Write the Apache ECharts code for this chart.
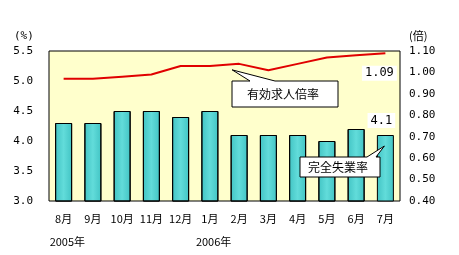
<!DOCTYPE html>
<html><head><meta charset="utf-8">
<script src="https://cdn.jsdelivr.net/npm/echarts@6/dist/echarts.min.js"></script>
<style>html,body{margin:0;padding:0;background:#fff}#c{width:459px;height:255px}</style>
</head><body><div id="c"></div>
<script>
const months = ['8月','9月','10月','11月','12月','1月','2月','3月','4月','5月','6月','7月'];
const unemployment = [4.3,4.3,4.5,4.5,4.4,4.5,4.1,4.1,4.1,4.0,4.2,4.1];
const jobRatio = [0.97,0.97,0.98,0.99,1.03,1.03,1.04,1.01,1.04,1.07,1.08,1.09];
const leftTicks = ['3.0','3.5','4.0','4.5','5.0','5.5'];
const rightTicks = ['0.40','0.50','0.60','0.70','0.80','0.90','1.00','1.10'];
const yearLabels = [{idx:0,text:'2005年'},{idx:5,text:'2006年'}];

const mono = '"DejaVu Sans Mono", monospace';
const jp = '"Noto Sans CJK JP", sans-serif';
const chart = echarts.init(document.getElementById('c'));
const last = months.length - 1;
const valLabel = {color:'#000',fontFamily:mono,fontSize:12,backgroundColor:'#fff',padding:[2,3,1,3]};
chart.setOption({
  animation:false,
  grid:{left:49,right:59,top:51,bottom:54,show:true,borderColor:'#000',borderWidth:1,backgroundColor:'#ffffcc'},
  xAxis:{type:'category',data:months,axisTick:{show:false},axisLine:{show:false},
    axisLabel:{interval:0,color:'#000',fontFamily:jp,fontSize:11,margin:12}},
  yAxis:[
    {type:'value',min:3.0,max:5.5,interval:0.5,splitLine:{show:false},axisLine:{show:false},axisTick:{show:false},
     axisLabel:{color:'#000',fontFamily:mono,fontSize:11,margin:16,formatter:v=>leftTicks[Math.round((v-3)/0.5)]}},
    {type:'value',min:0.4,max:1.1,interval:0.1,splitLine:{show:false},axisLine:{show:false},axisTick:{show:false},
     axisLabel:{color:'#000',fontFamily:mono,fontSize:11,margin:9,formatter:v=>rightTicks[Math.round((v-0.4)/0.1)]}}
  ],
  series:[
    {type:'bar',yAxisIndex:0,barWidth:17,z:2,
     label:Object.assign({show:false,position:'top',offset:[-4,-2],formatter:'{c}'},valLabel),
     data:unemployment.map((v,i)=>i===last?{value:v,label:{show:true}}:v),
     itemStyle:{color:new echarts.graphic.LinearGradient(0,0,1,0,[{offset:0,color:'#42c4c4'},{offset:0.5,color:'#62dcda'},{offset:1,color:'#42c4c4'}]),borderColor:'#000',borderWidth:1}},
    {type:'line',yAxisIndex:1,symbol:'none',showSymbol:false,z:3,lineStyle:{color:'#e00000',width:2},
     data:jobRatio}
  ]
});

function place(){
  const g=[];
  g.push({type:'text',left:14,top:31,z:100,style:{text:'(%)',font:'11px '+mono,fill:'#000'}});
  g.push({type:'text',left:409,top:30,z:100,style:{text:'(倍)',font:'11px '+jp,fill:'#000'}});
  yearLabels.forEach(y=>{
    const p=chart.convertToPixel({xAxisIndex:0},y.idx);
    g.push({type:'text',x:p-14,y:236,z:100,style:{text:y.text,font:'11px '+jp,fill:'#000'}});
  });
  // value label for last ratio point
  const pL=chart.convertToPixel({xAxisIndex:0,yAxisIndex:1},[last,jobRatio[last]]);
  g.push({type:'text',x:pL[0]-6,y:pL[1]+20,z:100,style:{text:jobRatio[last].toFixed(2),font:'12px '+mono,fill:'#000',
    textAlign:'center',textVerticalAlign:'middle',backgroundColor:'#fff',padding:[2,3,1,3]}});
  // callout for line
  const tip1=chart.convertToPixel({xAxisIndex:0,yAxisIndex:1},[6,jobRatio[6]]);
  const b1={x:232,y:81,w:106,h:26};
  g.push({type:'polygon',z:100,shape:{points:[[b1.x,b1.y],[b1.x+18,b1.y],[tip1[0]-7,tip1[1]+6],[b1.x+43,b1.y],[b1.x+b1.w,b1.y],[b1.x+b1.w,b1.y+b1.h],[b1.x,b1.y+b1.h]]},
    style:{fill:'#fff',stroke:'#000',lineWidth:1}});
  g.push({type:'text',z:101,x:b1.x+b1.w/2-2,y:b1.y+b1.h/2,style:{text:'有効求人倍率',font:'12px '+jp,fill:'#000',textAlign:'center',textVerticalAlign:'middle'}});
  const tip2=chart.convertToPixel({xAxisIndex:0,yAxisIndex:0},[last,unemployment[last]]);
  const b2={x:300,y:157,w:80,h:20};
  g.push({type:'polygon',z:100,shape:{points:[[b2.x,b2.y],[b2.x+67,b2.y],[tip2[0]-1,tip2[1]+11],[b2.x+76,b2.y],[b2.x+b2.w,b2.y],[b2.x+b2.w,b2.y+b2.h],[b2.x,b2.y+b2.h]]},
    style:{fill:'#fff',stroke:'#000',lineWidth:1}});
  g.push({type:'text',z:101,x:b2.x+b2.w/2-2,y:b2.y+b2.h/2,style:{text:'完全失業率',font:'12px '+jp,fill:'#000',textAlign:'center',textVerticalAlign:'middle'}});
  chart.setOption({graphic:g});
}
place();
</script></body></html>
